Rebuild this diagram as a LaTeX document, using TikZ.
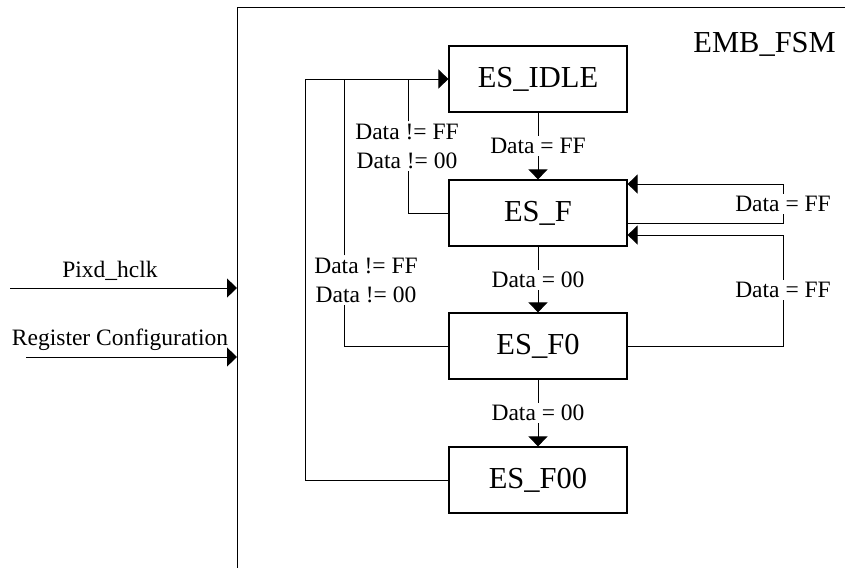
\documentclass[tikz,border=0pt]{standalone}
\usepackage{fontspec}
\setmainfont{Liberation Serif}
\usetikzlibrary{arrows.meta}
\begin{document}
\begin{tikzpicture}[x=1pt,y=-1pt,
  stbox/.style={draw,line width=1.2pt,minimum width=178pt,minimum height=66pt,inner sep=0pt,font=\fontsize{30.5}{36}\selectfont},
  lbl/.style={inner sep=2pt,align=center,font=\fontsize{23.5}{29}\selectfont},
  plain/.style={font=\fontsize{23.5}{29}\selectfont,inner sep=0pt},
  ln/.style={line width=1pt},
  arr/.style={line width=1pt,-{Triangle[length=10pt,width=19pt]}}]
\useasboundingbox (0,0) rectangle (845,568);
% frame
\coordinate (ftr) at (845,7);
\coordinate (fbl) at (237,568);
\draw[line width=1pt] (ftr) -| (fbl);
\node[plain,anchor=base east,font=\fontsize{30.5}{36}\selectfont] (title) at (836,52) {EMB\_FSM};
% states
\node[stbox] (idle) at (538,79) {ES\_IDLE};
\node[stbox] (F) at (538,213) {ES\_F};
\node[stbox] (F0) at (538,346) {ES\_F0};
\node[stbox] (F00) at (538,480) {ES\_F00};
% labels
\node[lbl] (l1) at (538,146) {Data = FF};
\node[lbl] (l2) at (538,280) {Data = 00};
\node[lbl] (l3) at (538,413) {Data = 00};
\node[lbl] (l4) at (783,204) {Data = FF};
\node[lbl] (l5) at (783,290) {Data = FF};
\node[lbl] (l6) at (407,146) {Data != FF\\Data != 00};
\node[lbl] (l7) at (366,280) {Data != FF\\Data != 00};
% down transitions
\draw[ln] (idle) -- (l1);
\draw[arr] (l1) -- (F);
\draw[ln] (F) -- (l2);
\draw[arr] (l2) -- (F0);
\draw[ln] (F0) -- (l3);
\draw[arr] (l3) -- (F00);
% right loops
\coordinate (rx) at (783,0);
\draw[ln] ([yshift=-10pt]F.east) -| (l4);
\draw[arr] (l4) |- ([yshift=29pt]F.east);
\draw[ln] (F0.east) -| (l5);
\draw[arr] (l5) |- ([yshift=-22pt]F.east);
% left loops
\coordinate (k1) at (305,79);
\coordinate (k2) at (344,79);
\coordinate (k3) at (408,79);
\draw[arr] (F00.west) -| (k1) -- (idle.west);
\draw[ln] (F0.west) -| (k2 |- l7.south);
\draw[ln] (k2 |- l7.north) -- (k2);
\draw[ln] (F.west) -| (k3 |- l6.south);
\draw[ln] (k3 |- l6.north) -- (k3);
% inputs
\coordinate (p0) at (10,288);
\coordinate (p1) at (237,288);
\coordinate (r0) at (26,357);
\coordinate (r1) at (237,357);
\draw[arr] (p0) -- (p1);
\draw[arr] (r0) -- (r1);
\node[plain,anchor=base] (pl) at (110,277) {Pixd\_hclk};
\node[plain,anchor=base] (rl) at (120,345) {Register Configuration};
\end{tikzpicture}
\end{document}
